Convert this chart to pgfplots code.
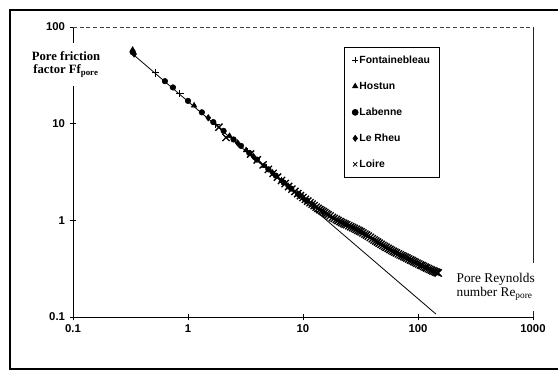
\documentclass[border=0pt]{standalone}
\usepackage{pgfplots}
\pgfplotsset{compat=1.18}
\usepackage{fontspec}
\setmainfont{Liberation Serif}
\newfontfamily\arial{Liberation Sans}
\begin{document}
\begin{tikzpicture}
\useasboundingbox (0,0) rectangle (418.5pt,280.5pt);
\begin{axis}[
  at={(54.75pt,42.75pt)}, anchor=south west,
  scale only axis, width=345pt, height=217.5pt,
  xmode=log, ymode=log,
  xmin=0.1, xmax=1000, ymin=0.1, ymax=100,
  axis x line*=bottom, axis y line*=left,
  axis line style={-, black, line width=0.6pt},
  xtick={0.1,1,10,100,1000}, xticklabels={0.1,1,10,100,1000},
  ytick={0.1,1,10,100}, yticklabels={0.1,1,10,100},
  xminorticks=false, yminorticks=false,
  tick align=center, major tick length=5pt,
  tick style={black, line width=0.6pt},
  ticklabel style={font=\arial\bfseries\fontsize{8.5}{10}\selectfont},
  legend style={at={(0.589,0.931)}, anchor=north west, draw=black, line width=0.5pt,
    font=\arial\bfseries\fontsize{7.8}{10}\selectfont, row sep=10pt,
    inner xsep=6pt, inner ysep=5pt, cells={anchor=west},
    nodes={inner sep=1pt, text height=6pt, text depth=1.5pt}},
  legend image code/.code={\draw[mark repeat=2,mark phase=2,#1] plot coordinates {(0cm,0cm) (0.08cm,0cm) (0.16cm,0cm)};},
  legend image post style={mark size=2.2pt, line width=0.6pt},
  clip=false
]
\addplot[black, line width=0.6pt, forget plot] coordinates {(0.324,53.6) (143.6,0.107)};

\addplot[only marks, mark=+, mark size=2.8pt, black, line width=0.7pt] coordinates {
(0.52,33.5) (0.85,20.5) (1.75,9.8) (3.3,5.15) (4.8,3.51) (6.8,2.46) (9.3,1.83)};
\addlegendentry{Fontainebleau}

\addplot[only marks, mark=triangle*, mark size=2.4pt, black, mark options={fill=black}] coordinates {
(0.33,58) (1.13,15.4) (2.3,7.44) (3.2,5.31) (4.6,3.67) (6.5,2.58) (9.0,1.88) (12,1.46)};
\addlegendentry{Hostun}

\addplot[only marks, mark=*, mark size=2.1pt, black, mark options={fill=black}] coordinates {
(0.33,55) (0.63,27.5) (0.74,23.7) (1.0,17.2) (1.32,13.1) (1.66,10.38) (2.04,8.41) (2.49,6.86)
(2.89,5.89) (3.41,4.98) (3.98,4.25) (5.0,3.37) (5.8,2.90) (6.8,2.46) (7.9,2.13) (9.2,1.85) (10.8,1.60)};
\addlegendentry{Labenne}

\addplot[only marks, mark=diamond*, mark size=2.4pt, black, mark options={fill=black}] coordinates {
(0.34,52.5) (1.5,11.5) (2.7,6.32) (3.7,4.58) (5.4,3.12) (7.4,2.27) (10,1.72) (12.5,1.40) (15,1.21)};
\addlegendentry{Le Rheu}

\addplot[only marks, mark=x, mark size=3.8pt, black, line width=1pt] coordinates {
(1.86,9.2) (2.14,7.2) (3.5,4.85) (4.0,4.22) (4.5,3.75) (5.0,3.37) (5.5,3.06) (6.0,2.80) (6.5,2.58)
(7.0,2.40) (7.5,2.24) (8.0,2.10) (8.5,1.99) (9.0,1.89) (9.5,1.80) (10.0,1.72) (10.5,1.65) (11.0,1.58)
(11.5,1.52) (12.0,1.47) (12.5,1.42) (13.0,1.37) (13.5,1.33) (14.0,1.29) (14.5,1.26) (15.0,1.23)
(15.5,1.20) (16.0,1.17) (16.5,1.14) (17.2,1.11) (18,1.07) (18.7,1.045) (19.5,1.02) (20.2,0.995)
(21,0.97) (21.7,0.95) (22.5,0.93) (23.2,0.915) (24,0.90) (25,0.88) (26,0.86) (27,0.842) (28,0.825)
(29,0.808) (30,0.79) (31,0.775) (32,0.76) (33.2,0.74) (34.5,0.72) (35.7,0.703) (37,0.685) (38.5,0.665)
(40,0.645) (41.5,0.627) (43,0.61) (44.5,0.595) (46,0.58) (47.7,0.565) (49.5,0.55) (51.2,0.537)
(53,0.525) (55,0.512) (57,0.50) (59,0.489) (61,0.478) (63,0.469) (65,0.46) (67.5,0.45) (70,0.44)
(72.5,0.431) (75,0.423) (77.5,0.415) (80,0.408) (83,0.399) (86,0.39) (89,0.382) (92,0.375) (95,0.367)
(98,0.36) (101.5,0.353) (105,0.346) (108.5,0.34) (112,0.334) (115.5,0.328) (119,0.322) (123,0.316)
(127,0.311) (131,0.305) (135,0.30) (139,0.296) (143,0.292) (146.5,0.288) (150,0.285)};
\addlegendentry{Loire}

\draw[black!75, densely dashed, line width=0.5pt] (rel axis cs:0,1) -- (rel axis cs:1,1);
\draw[black!85, line width=0.5pt] (rel axis cs:1,1) -- (rel axis cs:1,0);
\end{axis}
\begin{scope}[x=0.75pt, y=-0.75pt, yshift=280.5pt]
  \draw[line width=1.2pt] (558,10) -- (10,10) -- (10,369) -- (558,369);
  \node[fill=white, align=center, inner xsep=4pt, inner ysep=7pt,
        font=\bfseries\fontsize{9.5}{9.75}\selectfont] at (66,64.5)
        {Pore friction\\factor Ff\textsubscript{pore}};
  \node[fill=white, align=left, anchor=west, inner xsep=1pt, inner ysep=8pt,
        font=\fontsize{10}{10.5}\selectfont] at (455,287)
        {Pore Reynolds\\number Re\textsubscript{pore}};
\end{scope}
\end{tikzpicture}
\end{document}
